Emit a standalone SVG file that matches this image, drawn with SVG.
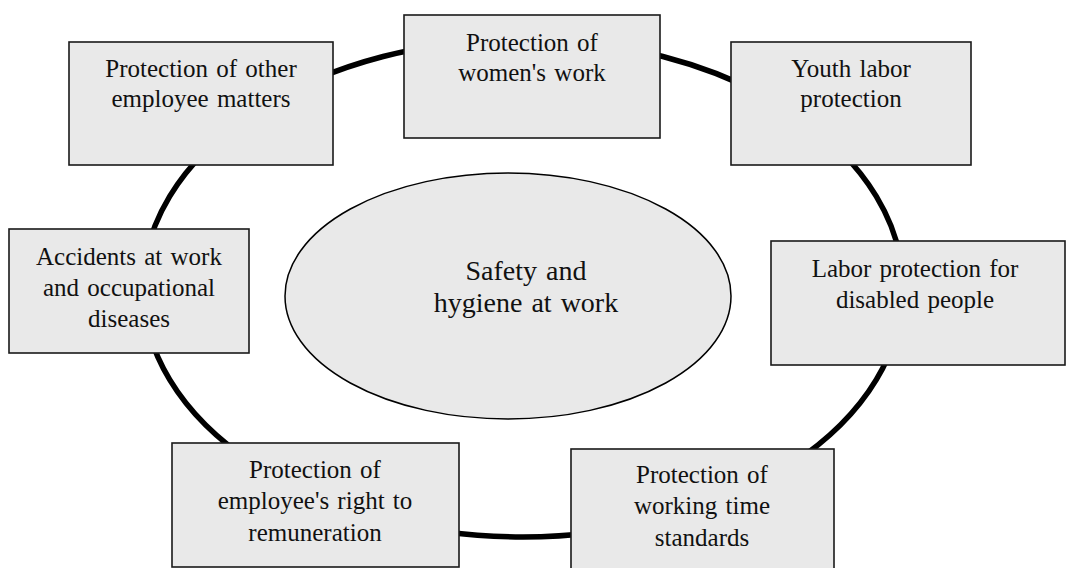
<svg xmlns="http://www.w3.org/2000/svg" width="1067" height="568" viewBox="0 0 1067 568" font-family="Liberation Serif, DejaVu Serif, serif">
  <style>
    .box { fill: #e9e9e9; stroke: #1a1a1a; stroke-width: 1.6; }
    .hub { fill: #e9e9e9; stroke: #000; stroke-width: 1.5; }
    .ring { fill: none; stroke: #000; stroke-width: 5.5; }
    .lbl { font-size: 25px; fill: #111; text-anchor: middle; word-spacing: 2px; }
    .hubtxt { font-size: 28px; }
  </style>

  <!-- connecting ring behind all topics -->
  <g id="connectors">
    <ellipse class="ring" cx="523" cy="288" rx="380" ry="249"/>
  </g>

  <g id="hub">
    <ellipse class="hub" cx="508" cy="296" rx="223" ry="123"/>
    <text class="lbl hubtxt" x="526" y="280">Safety and</text>
    <text class="lbl hubtxt" x="526" y="312">hygiene at work</text>
  </g>

  <g id="other-matters">
    <rect class="box" x="69" y="42" width="264" height="123"/>
    <text class="lbl" x="201" y="77">Protection of other</text>
    <text class="lbl" x="201" y="107">employee matters</text>
  </g>

  <g id="womens-work">
    <rect class="box" x="404" y="15" width="256" height="123"/>
    <text class="lbl" x="532" y="51">Protection of</text>
    <text class="lbl" x="532" y="81">women's work</text>
  </g>

  <g id="youth-labor">
    <rect class="box" x="731" y="42" width="240" height="123"/>
    <text class="lbl" x="851" y="77">Youth labor</text>
    <text class="lbl" x="851" y="107">protection</text>
  </g>

  <g id="disabled-people">
    <rect class="box" x="771" y="241" width="294" height="124"/>
    <text class="lbl" x="915" y="277">Labor protection for</text>
    <text class="lbl" x="915" y="308">disabled people</text>
  </g>

  <g id="accidents">
    <rect class="box" x="9" y="229" width="240" height="124"/>
    <text class="lbl" x="129" y="265">Accidents at work</text>
    <text class="lbl" x="129" y="296">and occupational</text>
    <text class="lbl" x="129" y="327">diseases</text>
  </g>

  <g id="remuneration">
    <rect class="box" x="172" y="443" width="287" height="124"/>
    <text class="lbl" x="315" y="478">Protection of</text>
    <text class="lbl" x="315" y="509">employee's right to</text>
    <text class="lbl" x="315" y="541">remuneration</text>
  </g>

  <g id="working-time">
    <rect class="box" x="571" y="449" width="263" height="124"/>
    <text class="lbl" x="702" y="483">Protection of</text>
    <text class="lbl" x="702" y="514">working time</text>
    <text class="lbl" x="702" y="546">standards</text>
  </g>
</svg>
